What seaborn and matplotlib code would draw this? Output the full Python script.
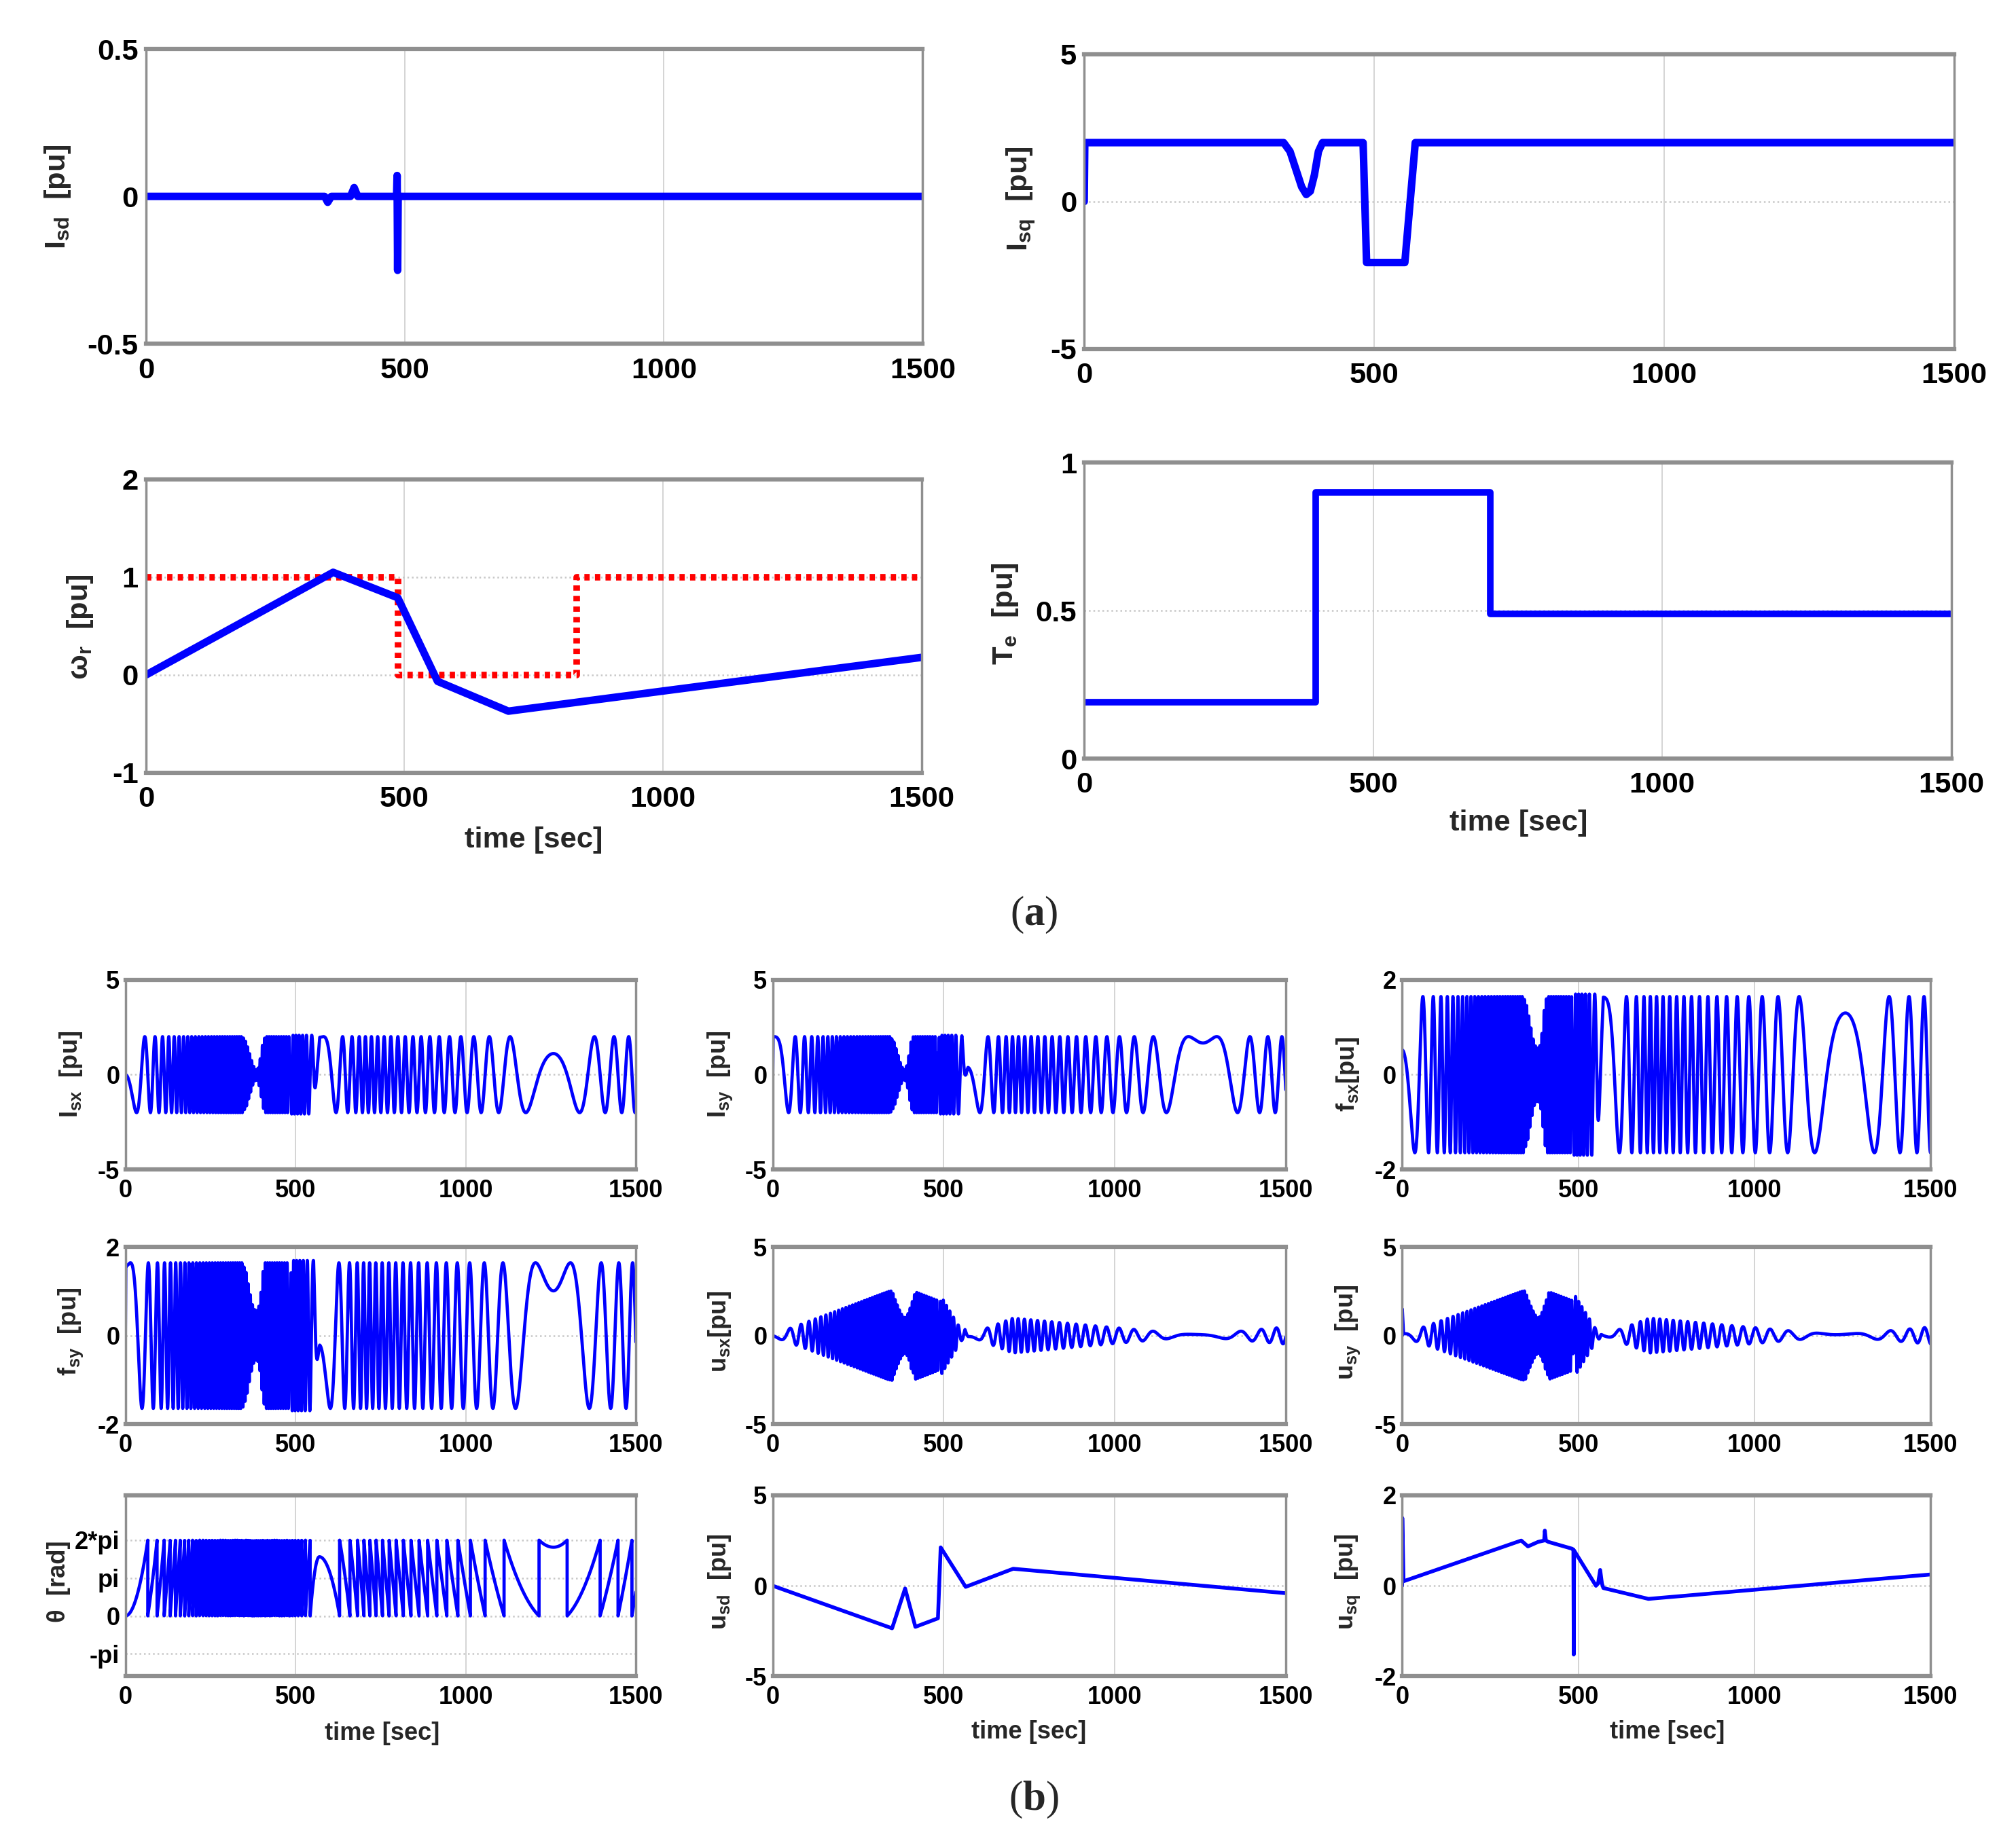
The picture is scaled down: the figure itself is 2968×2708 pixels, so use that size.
import numpy as np
import matplotlib
matplotlib.use("Agg")
import matplotlib.pyplot as plt
import seaborn as sns
from matplotlib import font_manager

# ---- (a) d/q signals ----
isd_t = [0, 345, 351, 358, 395, 402, 409, 484, 485, 486, 487, 1500]
isd_v = [0, 0, -0.02, 0, 0, 0.03, 0, 0, 0.071, -0.251, 0, 0]

isq_t = [0, 1, 344, 355, 365, 375, 383, 390, 397, 404, 411, 481, 487, 553, 571, 1500]
isq_v = [0, 2.0, 2.0, 1.7, 1.1, 0.5, 0.24, 0.35, 0.9, 1.7, 2.0, 2.0, -2.07, -2.07, 2.0, 2.0]

wr_t = [0, 362, 487, 564, 701, 1500]
wr_v = [0, 1.05, 0.79, -0.065, -0.37, 0.18]
wref_t = [0, 487, 487, 833, 833, 1500]
wref_v = [1, 1, 0, 0, 1, 1]

te_t = [0, 400, 400, 702, 702, 1500]
te_v = [0.19, 0.19, 0.9, 0.9, 0.49, 0.49]

# ---- (b) d/q voltages ----
usd_t = [0, 349, 387, 417, 483, 491, 564, 703, 1500]
usd_v = [0, -2.35, -0.15, -2.27, -1.8, 2.12, -0.06, 0.94, -0.41]

usq_t = [0, 0.5, 4, 338, 357, 386, 403, 405, 408, 415, 482, 486, 487, 488,
         550, 556, 562, 567, 571, 699, 1500]
usq_v = [0, 1.5, 0.1, 1.0, 0.87, 0.97, 1.0, 1.22, 1.0, 0.97, 0.82, 0.8, -1.52, 0.78,
         0.0, 0.05, 0.35, 0.05, -0.05, -0.29, 0.25]

# electrical speed of the rotating frame (from the spacing of the theta sawtooth)
we_t = [0, 362, 487, 530, 570, 701, 1258, 1500]
we_v = [0, 1.05, 0.79, 0.534, 0.0, -0.363, 0.0, 0.177]

# stator flux in d/q: constant d part plus q part per unit of Isq
fs_d0 = 0.52
fs_gain = 0.78

# ---- build the stator-frame (x/y) waveforms from the d/q curves ----
t = np.linspace(0, 1500, 30001)
we = np.interp(t, we_t, we_v)
theta = np.concatenate([[0], np.cumsum(0.5 * (we[1:] + we[:-1]) * np.diff(t))])
c, s = np.cos(theta), np.sin(theta)

isd = np.interp(t, isd_t, isd_v)
isq = np.interp(t, isq_t, isq_v)
usd = np.interp(t, usd_t, usd_v)
usq = np.interp(t, usq_t, usq_v)
fsd = fs_d0 + fs_gain * isd
fsq = fs_gain * isq

isx, isy = isd * c - isq * s, isd * s + isq * c
fsx, fsy = fsd * c - fsq * s, fsd * s + fsq * c
usx, usy = usd * c - usq * s, usd * s + usq * c
theta_w = np.mod(theta, 2 * np.pi)

# ---- style ----
sns.set_theme(style="white")
names = {f.name for f in font_manager.fontManager.ttflist}
narrow = "Liberation Sans Narrow" in names
sans = "Liberation Sans Narrow" if narrow else "Liberation Sans"
k = 1.0 if narrow else 0.87
plt.rcParams["font.family"] = [sans, "DejaVu Sans"]
plt.rcParams["font.weight"] = "bold"
plt.rcParams["mathtext.fontset"] = "custom"
plt.rcParams["mathtext.rm"] = sans + ":bold"
plt.rcParams["mathtext.it"] = sans + ":bold"
plt.rcParams["mathtext.bf"] = "Liberation Serif:bold"

BLUE = "#0000ff"
RED = "#ff0000"
SPINE = "#8f8f8f"

fig = plt.figure(figsize=(29.68, 27.08), dpi=100)


def line(ax, x, y, lw, color=BLUE, ls="-"):
    sns.lineplot(x=np.asarray(x, float), y=np.asarray(y, float), ax=ax,
                 estimator=None, sort=False, color=color, linewidth=lw,
                 linestyle=ls)


def style(ax, ylim, yticks, ylabels, fs, xpad, ypad):
    ax.set_xlim(0, 1500)
    ax.set_ylim(*ylim)
    ax.set_xticks([0, 500, 1000, 1500])
    ax.set_xticklabels(["0", "500", "1000", "1500"])
    ax.set_yticks(yticks)
    ax.set_yticklabels(ylabels)
    ax.set_xlabel("")
    ax.set_ylabel("")
    ax.grid(True, axis="x", color="#d4d4d4", linestyle="-", linewidth=1.4)
    ax.grid(True, axis="y", color="#c8c8c8", linestyle=":", linewidth=1.8)
    ax.set_axisbelow(True)
    ax.tick_params(axis="both", direction="in", length=6, color=SPINE,
                   labelsize=fs, labelcolor="black")
    ax.tick_params(axis="x", pad=xpad)
    ax.tick_params(axis="y", pad=ypad)
    for side in ["left", "right"]:
        ax.spines[side].set_color(SPINE)
        ax.spines[side].set_linewidth(2.5)
    for side in ["top", "bottom"]:
        ax.spines[side].set_color(SPINE)
        ax.spines[side].set_linewidth(4.5)
        ax.spines[side].set_visible(True)


fa = 36 * k
fb = 30 * k

# ---- panel (a) ----
a1 = fig.add_axes([0.0724, 0.8131, 0.3853, 0.1602])
line(a1, [0, 1500], [0, 0], 7, RED, (0, (1, 1)))
line(a1, isd_t, isd_v, 8)
style(a1, (-0.5, 0.5), [-0.5, 0, 0.5], ["-0.5", "0", "0.5"], fa, 14, 8)

a2 = fig.add_axes([0.5378, 0.8103, 0.4314, 0.1602])
line(a2, isq_t, isq_v, 8)
style(a2, (-5, 5), [-5, 0, 5], ["-5", "0", "5"], fa, 14, 8)

a3 = fig.add_axes([0.0724, 0.5798, 0.3847, 0.1595])
line(a3, wref_t, wref_v, 7, RED, (0, (0.8, 0.8)))
line(a3, wr_t, wr_v, 8)
style(a3, (-1, 2), [-1, 0, 1, 2], ["-1", "0", "1", "2"], fa, 14, 8)

a4 = fig.add_axes([0.5378, 0.5875, 0.4301, 0.1609])
line(a4, te_t, te_v, 7)
style(a4, (0, 1), [0, 0.5, 1], ["0", "0.5", "1"], fa, 14, 8)

fig.text(0.0288, 0.8932, "I$_{\\mathrm{sd}}$  [pu]", rotation=90, ha="center", va="center", fontsize=fa)
fig.text(0.5064, 0.8918, "I$_{\\mathrm{sq}}$  [pu]", rotation=90, ha="center", va="center", fontsize=fa)
fig.text(0.0397, 0.6592, "ω$_{\\mathrm{r}}$  [pu]", rotation=90, ha="center", va="center", fontsize=fa)
fig.text(0.4987, 0.6662, "T$_{\\mathrm{e}}$  [pu]", rotation=90, ha="center", va="center", fontsize=fa)
fig.text(0.2647, 0.5432, "time [sec]", ha="center", va="center", fontsize=fa)
fig.text(0.7532, 0.5524, "time [sec]", ha="center", va="center", fontsize=fa)

# ---- panel (b) ----
cols = [(0.0622, 0.2532), (0.3833, 0.2545), (0.6955, 0.2622)]
rows = [(0.364, 0.1033), (0.2256, 0.0963), (0.0885, 0.0984)]
lab_x = [0.0353, 0.3571, 0.6686]
lab_y = [0.4158, 0.2757, 0.1400]

panels = [
    (isx, (-5, 5), [-5, 0, 5], ["-5", "0", "5"], "I$_{\\mathrm{sx}}$  [pu]"),
    (isy, (-5, 5), [-5, 0, 5], ["-5", "0", "5"], "I$_{\\mathrm{sy}}$  [pu]"),
    (fsx, (-2, 2), [-2, 0, 2], ["-2", "0", "2"], "f$_{\\mathrm{sx}}$[pu]"),
    (fsy, (-2, 2), [-2, 0, 2], ["-2", "0", "2"], "f$_{\\mathrm{sy}}$  [pu]"),
    (usx, (-5, 5), [-5, 0, 5], ["-5", "0", "5"], "u$_{\\mathrm{sx}}$[pu]"),
    (usy, (-5, 5), [-5, 0, 5], ["-5", "0", "5"], "u$_{\\mathrm{sy}}$  [pu]"),
    (theta_w, (-5, 10), [-np.pi, 0, np.pi, 2 * np.pi], ["-pi", "0", "pi", "2*pi"], "θ  [rad]"),
    (None, (-5, 5), [-5, 0, 5], ["-5", "0", "5"], "u$_{\\mathrm{sd}}$  [pu]"),
    (None, (-2, 2), [-2, 0, 2], ["-2", "0", "2"], "u$_{\\mathrm{sq}}$  [pu]"),
]

for i, (y, ylim, yt, yl, lab) in enumerate(panels):
    r, cidx = divmod(i, 3)
    l, w = cols[cidx]
    b, h = rows[r]
    ax = fig.add_axes([l, b, w, h])
    if i == 7:
        line(ax, usd_t, usd_v, 4)
    elif i == 8:
        line(ax, usq_t, usq_v, 4)
    else:
        line(ax, t, y, 3.4)
    style(ax, ylim, yt, yl, fb, 10, 6)
    lx = lab_x[cidx] - (0.006 if i == 6 else 0)
    fig.text(lx, lab_y[r], lab, rotation=90, ha="center", va="center", fontsize=fb)

fig.text(0.1897, 0.0576, "time [sec]", ha="center", va="center", fontsize=fb)
fig.text(0.5103, 0.0583, "time [sec]", ha="center", va="center", fontsize=fb)
fig.text(0.8269, 0.0583, "time [sec]", ha="center", va="center", fontsize=fb)

fig.text(0.5128, 0.5025, "($\\mathbf{a}$)", ha="center", va="center", fontsize=44,
         family="Liberation Serif", fontweight="normal")
fig.text(0.5128, 0.0211, "($\\mathbf{b}$)", ha="center", va="center", fontsize=44,
         family="Liberation Serif", fontweight="normal")

fig.savefig("out.png", dpi=100, facecolor="white")
